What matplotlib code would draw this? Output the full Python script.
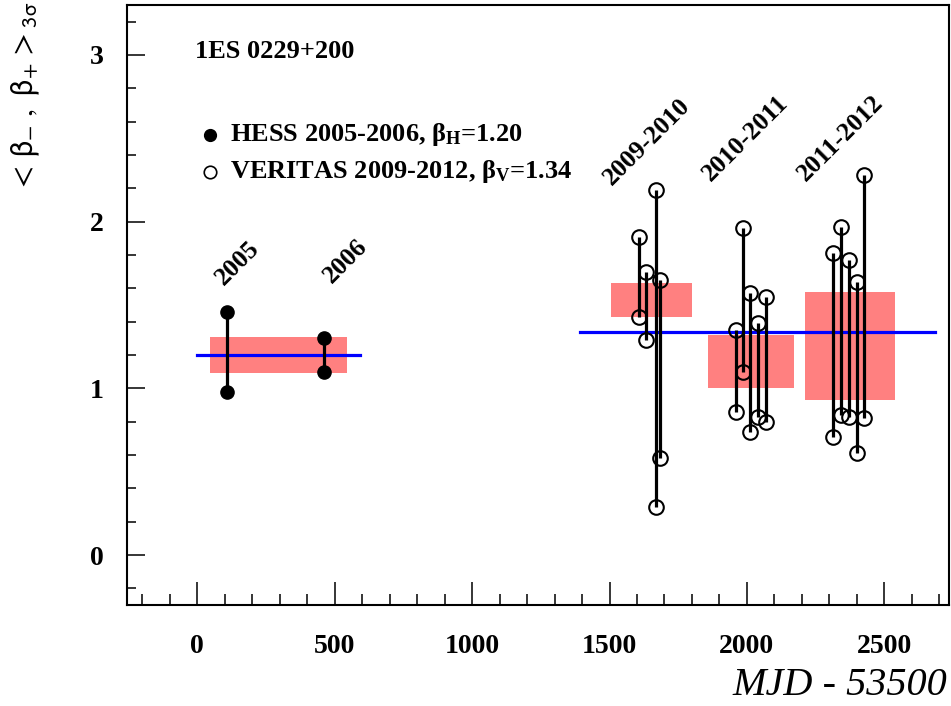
import numpy as np
import matplotlib
matplotlib.use("Agg")
import matplotlib.pyplot as plt
from matplotlib.ticker import MultipleLocator

plt.rcParams['mathtext.fontset'] = 'custom'
plt.rcParams['mathtext.rm'] = 'Liberation Serif:bold'
plt.rcParams['mathtext.bf'] = 'Liberation Serif:bold'
plt.rcParams['mathtext.it'] = 'Liberation Serif:bold:italic'

# HESS (filled) : x = MJD - 53500, lower / upper beta
hess_x = [108, 460]
hess_lo = [0.98, 1.10]
hess_hi = [1.46, 1.30]

# VERITAS (open)
veritas_x = [1606, 1631, 1670, 1685, 1962, 1987, 2013, 2041, 2069,
             2313, 2341, 2371, 2402, 2426]
veritas_lo = [1.43, 1.29, 0.29, 0.58, 0.86, 1.10, 0.74, 0.83, 0.80,
              0.71, 0.84, 0.83, 0.61, 0.82]
veritas_hi = [1.91, 1.70, 2.19, 1.65, 1.35, 1.96, 1.57, 1.39, 1.55,
              1.81, 1.97, 1.77, 1.64, 2.28]

# season bands: x0, x1, y0, y1
band_x0 = [47, 1507, 1860, 2213]
band_x1 = [546, 1801, 2173, 2538]
band_lo = [1.09, 1.43, 1.00, 0.93]
band_hi = [1.31, 1.63, 1.32, 1.58]

# mean beta lines
beta_H = 1.20
beta_V = 1.34
mean_x0 = [0, 1394]
mean_x1 = [593, 2686]
mean_y = [beta_H, beta_V]

season_labels = ['2005', '2006', '2009-2010', '2010-2011', '2011-2012']
season_lx = [145, 539, 1635, 1995, 2341]
season_ly = [1.75, 1.76, 2.48, 2.50, 2.50]

serif = 'Liberation Serif'

fig = plt.figure(figsize=(9.51, 7.06), dpi=100)
ax = fig.add_axes([0.1335, 0.143, 0.864, 0.85])

for x0, x1, lo, hi in zip(band_x0, band_x1, band_lo, band_hi):
    ax.fill_between([x0, x1], lo, hi, color='#ff8080', lw=0, zorder=1)

for x0, x1, y in zip(mean_x0, mean_x1, mean_y):
    ax.plot([x0, x1], [y, y], color='#0000ff', lw=2.3, zorder=2)

ax.vlines(hess_x, hess_lo, hess_hi, color='black', lw=2.3, zorder=3)
ax.vlines(veritas_x, veritas_lo, veritas_hi, color='black', lw=2.3, zorder=3)
ax.plot(hess_x + hess_x, hess_lo + hess_hi, 'o', ms=9.5, color='black', zorder=4)
ax.plot(veritas_x + veritas_x, veritas_lo + veritas_hi, 'o', ms=10.5,
        mfc='none', mec='black', mew=1.5, zorder=4)

for lab, lx, ly in zip(season_labels, season_lx, season_ly):
    ax.text(lx, ly, lab, rotation=45, ha='center', va='center',
            family=serif, weight='bold', fontsize=18.5)

ax.text(0.083, 0.922, '1ES 0229+200', transform=ax.transAxes,
        family=serif, weight='bold', fontsize=19, va='center')

# legend-like entries
ax.plot([47], [2.52], 'o', ms=8.5, color='black')
ax.plot([47], [2.30], 'o', ms=9, mfc='none', mec='black', mew=1.2)
ax.text(120, 2.52, r'HESS 2005-2006, $\mathrm{β}_{\mathbf{H}}$=1.20',
        family=serif, weight='bold', fontsize=19, va='center')
ax.text(120, 2.30, r'VERITAS 2009-2012, $\mathrm{β}_{\mathbf{V}}$=1.34',
        family=serif, weight='bold', fontsize=19, va='center')

ax.set_xlim(-256, 2734)
ax.set_ylim(-0.3, 3.3)
ax.xaxis.set_major_locator(MultipleLocator(500))
ax.xaxis.set_minor_locator(MultipleLocator(100))
ax.yaxis.set_major_locator(MultipleLocator(1))
ax.yaxis.set_minor_locator(MultipleLocator(0.2))
ax.tick_params(axis='both', which='both', direction='in', top=False, right=False, width=1.1)
ax.tick_params(axis='x', which='major', length=16.5, pad=21)
ax.tick_params(axis='x', which='minor', length=8)
ax.tick_params(axis='y', which='major', length=13, pad=17)
ax.tick_params(axis='y', which='minor', length=6.5)
for lab in ax.get_xticklabels() + ax.get_yticklabels():
    lab.set_family(serif)
    lab.set_weight('bold')
    lab.set_fontsize(20)
for sp in ax.spines.values():
    sp.set_linewidth(1.5)

fig.text(0.996, 0.029, 'MJD - 53500', ha='right', va='center',
         family=serif, style='italic', fontsize=29)
fig.text(0.027, 0.998, r'$\mathrm{<\,\beta_{-}\ ,\ \beta_{+}\,>_{3\sigma}}$', rotation=90,
         ha='center', va='top', fontsize=23, math_fontfamily='stixsans')

fig.savefig('out.png', dpi=100)
